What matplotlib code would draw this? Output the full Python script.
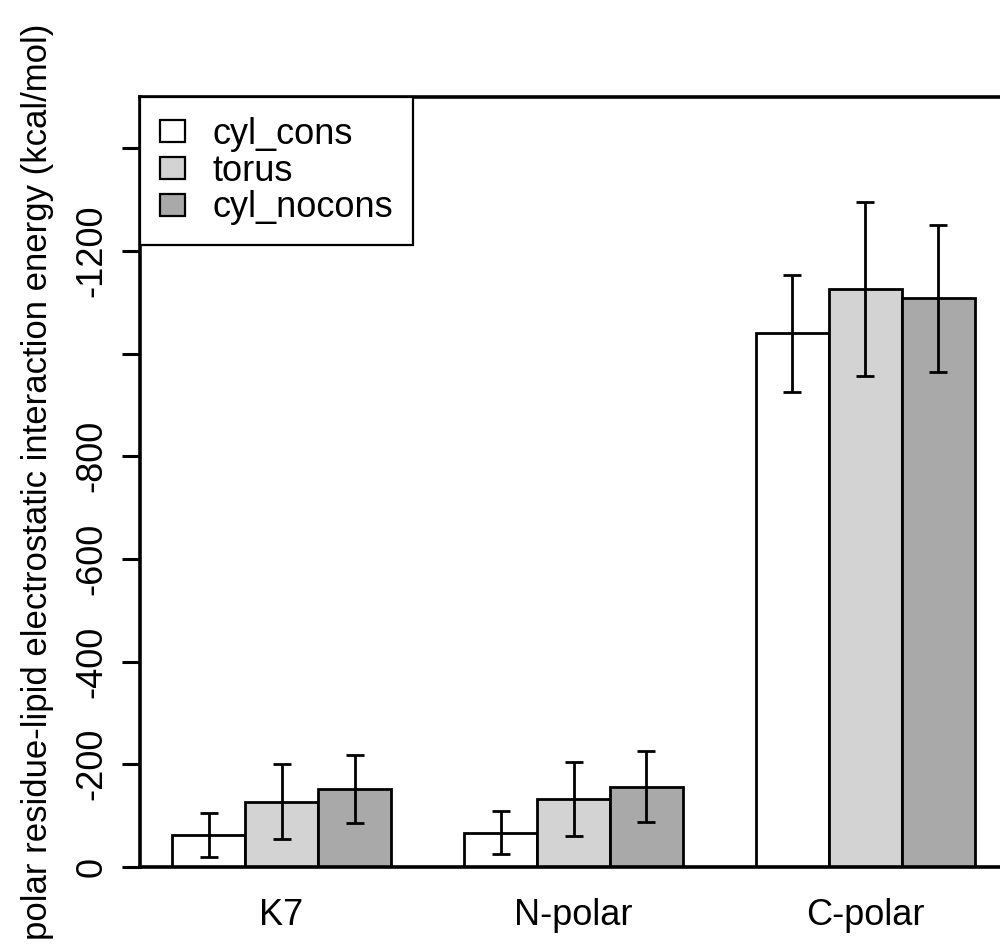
import matplotlib
matplotlib.use("Agg")
import matplotlib.pyplot as plt
import numpy as np

plt.rcParams['font.family'] = ['Liberation Sans', 'DejaVu Sans']

# data (kcal/mol)
groups = ['K7', 'N-polar', 'C-polar']
series = ['cyl_cons', 'torus', 'cyl_nocons']
colors = ['white', '#d3d3d3', '#a9a9a9']
cyl_cons = [-63, -67, -1040]
torus = [-127, -132, -1126]
cyl_nocons = [-152, -156, -1108]
err_cyl_cons = [43, 42, 114]
err_torus = [73, 72, 169]
err_cyl_nocons = [67, 69, 143]

yticks = [0, -200, -400, -600, -800, -1000, -1200, -1400]
yticklabels = ['0', '-200', '-400', '-600', '-800', '', '-1200', '']

values = [cyl_cons, torus, cyl_nocons]
errors = [err_cyl_cons, err_torus, err_cyl_nocons]

fs = 26

fig = plt.figure(figsize=(10, 9.5), dpi=100)
ax = fig.add_axes([0.14, 0.0874, 0.867, 0.8105])

# R style beside barplot: bar width 1, one unit gap between groups
for j in range(3):
    x = np.arange(3) * 4 + 1 + j
    ax.bar(x, values[j], width=1, align='edge', color=colors[j],
           edgecolor='black', linewidth=2, label=series[j], zorder=2)
    ax.errorbar(x + 0.5, values[j], yerr=errors[j], fmt='none',
                ecolor='black', elinewidth=2, capsize=6.5, capthick=2, zorder=3)

ax.set_xlim(0.56, 12.44)
ax.set_ylim(0, -1500)

ax.set_xticks(np.arange(3) * 4 + 2.5)
ax.set_xticklabels(groups, fontsize=fs)
ax.tick_params(axis='x', length=0, pad=22)

ax.set_yticks(yticks)
ax.set_yticklabels(yticklabels, fontsize=fs, rotation=90, va='center')
ax.tick_params(axis='y', direction='out', length=13, width=2.2, pad=9)

ax.set_ylabel('polar residue-lipid electrostatic interaction energy (kcal/mol)',
              fontsize=25, labelpad=15)

for s in ax.spines.values():
    s.set_linewidth(2.6)

leg = ax.legend(loc='upper left', bbox_to_anchor=(0, 1), borderaxespad=0,
                fontsize=fs, fancybox=False, framealpha=1, edgecolor='black',
                handlelength=0.7, handleheight=0.55, handletextpad=0.75,
                labelspacing=0.05, borderpad=0.55)
leg.get_frame().set_linewidth(1.6)
for h in leg.legend_handles:
    h.set_linewidth(1.6)

fig.savefig('out.png', dpi=100)
